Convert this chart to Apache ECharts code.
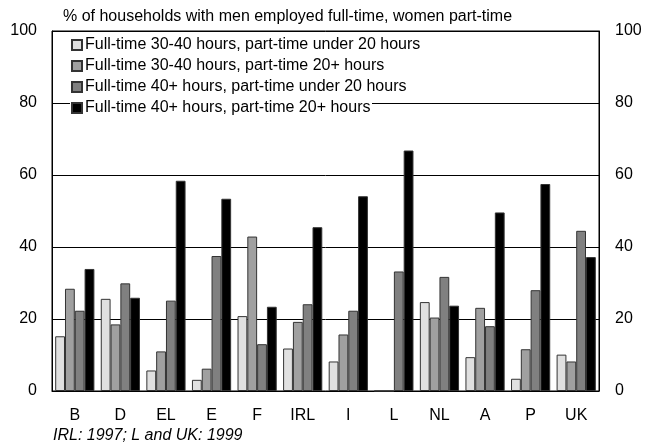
<!DOCTYPE html>
<html>
<head>
<meta charset="utf-8">
<script src="https://cdn.jsdelivr.net/npm/echarts@6/dist/echarts.min.js"></script>
<style>
html,body{margin:0;padding:0;background:#fff;}
#c{width:650px;height:448px;}
</style>
</head>
<body>
<div id="c"></div>
<script>
var categories = ['B','D','EL','E','F','IRL','I','L','NL','A','P','UK'];
var seriesNames = [
  'Full-time 30-40 hours, part-time under 20 hours',
  'Full-time 30-40 hours, part-time 20+ hours',
  'Full-time 40+ hours, part-time under 20 hours',
  'Full-time 40+ hours, part-time 20+ hours'
];
var ft3040_ptUnder20 = [15.2, 25.6, 5.7, 3.1, 20.8, 11.8, 8.2, 0, 24.7, 9.4, 3.4, 10.1];
var ft3040_pt20plus  = [28.4, 18.5, 11.0, 6.2, 42.9, 19.2, 15.7, 0, 20.4, 23.1, 11.6, 8.2];
var ft40_ptUnder20   = [22.3, 29.9, 25.1, 37.5, 13.0, 24.1, 22.3, 33.2, 31.7, 18.0, 28.0, 44.5];
var ft40_pt20plus    = [33.9, 25.9, 58.4, 53.4, 23.4, 45.5, 54.1, 66.8, 23.7, 49.6, 57.5, 37.2];
var yTicks = [0, 20, 40, 60, 80, 100];
var titleText = '% of households with men employed full-time, women part-time';
var footnote = 'IRL: 1997; L and UK: 1999';

var colors = ['#e0e0e0', '#a0a0a0', '#808080', '#000000'];
var values = [ft3040_ptUnder20, ft3040_pt20plus, ft40_ptUnder20, ft40_pt20plus];
var font = 'Liberation Sans, Arial, sans-serif';
var fs = 16;

var chart = echarts.init(document.getElementById('c'), null, {renderer: 'canvas'});
var yAxisBase = {
  type: 'value', min: yTicks[0], max: yTicks[yTicks.length - 1], interval: 20,
  axisLine: {show: true, lineStyle: {color: '#000', width: 1}},
  axisTick: {show: false},
  splitLine: {show: true, lineStyle: {color: '#000', width: 1}},
  axisLabel: {color: '#000', fontSize: fs, fontFamily: font}
};
chart.setOption({
  animation: false,
  backgroundColor: '#fff',
  title: [
    {text: titleText, left: 63, top: 9, padding: 0, textStyle: {fontSize: fs, fontWeight: 'normal', color: '#000', fontFamily: font}},
    {text: footnote, left: 53, top: 428, padding: 0, textStyle: {fontSize: fs, fontWeight: 'normal', fontStyle: 'italic', color: '#000', fontFamily: font}}
  ],
  graphic: [{
    type: 'rect', left: 70, top: 97, z: 30,
    shape: {width: 302, height: 18},
    style: {fill: '#fff'}
  }],
  legend: {
    orient: 'vertical', left: 71, top: 35, z: 60,
    itemWidth: 10, itemHeight: 10, itemGap: 5,
    padding: [2, 0, 2, 0],
    icon: 'rect',
    textStyle: {fontSize: fs, color: '#000', fontFamily: font, padding: [0, 0, 0, -2]},
    data: seriesNames
  },
  grid: {left: 52, right: 51, top: 31, bottom: 57, show: true, borderColor: '#000', borderWidth: 1},
  xAxis: {
    type: 'category', data: categories,
    axisLine: {show: true, lineStyle: {color: '#000'}},
    axisTick: {show: false},
    axisLabel: {color: '#000', fontSize: fs, fontFamily: font, margin: 17}
  },
  yAxis: [
    Object.assign({}, yAxisBase, {position: 'left', axisLabel: Object.assign({}, yAxisBase.axisLabel, {margin: 15})}),
    Object.assign({}, yAxisBase, {position: 'right', splitLine: {show: false}, axisLabel: Object.assign({}, yAxisBase.axisLabel, {margin: 16})})
  ],
  series: seriesNames.map(function (n, i) {
    return {
      name: n, type: 'bar', data: values[i],
      barGap: '0%', barCategoryGap: '14%',
      itemStyle: {color: colors[i], borderColor: '#333', borderWidth: 1}
    };
  })
});
</script>
</body>
</html>
